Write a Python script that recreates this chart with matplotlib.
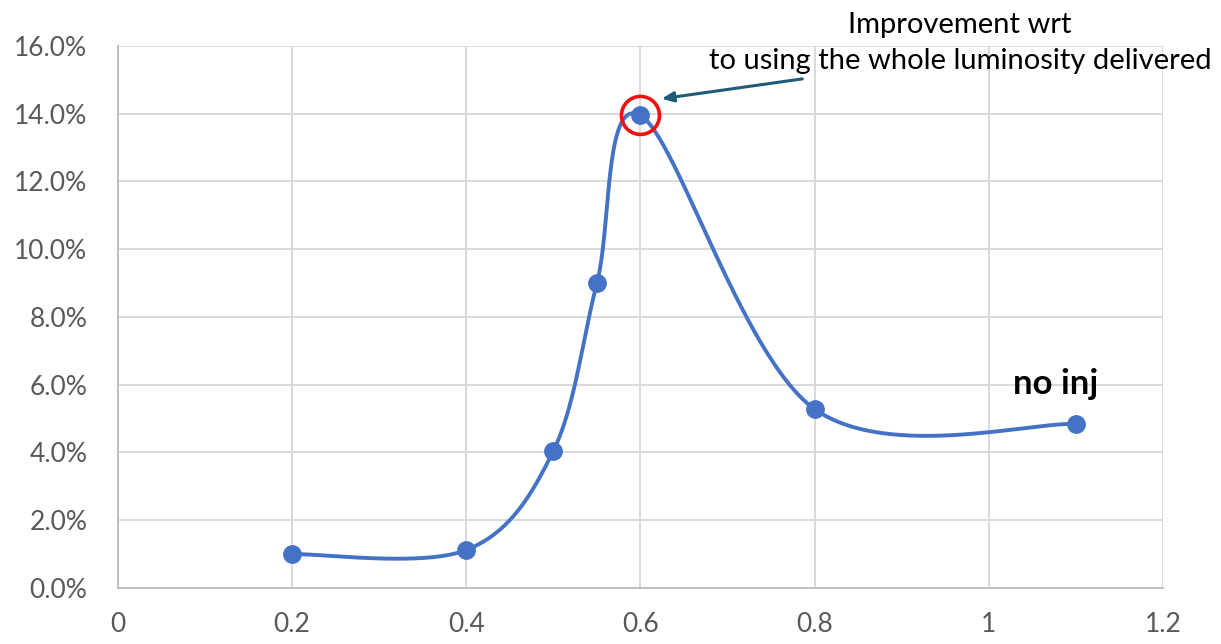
import matplotlib
matplotlib.use("Agg")
import matplotlib.pyplot as plt
import numpy as np
from matplotlib.patches import Ellipse
from matplotlib.ticker import FuncFormatter, MultipleLocator

plt.rcParams["font.family"] = ["Lato", "DejaVu Sans"]

# injection level vs. gain
x_vals = [0.2, 0.4, 0.5, 0.55, 0.6, 0.8, 1.1]
gain = [0.0100, 0.0112, 0.0405, 0.0900, 0.1395, 0.0528, 0.0484]

note_text = "Improvement wrt\nto using the whole luminosity delivered"
tag_text = "no inj"

LINE = "#4472C4"
GRID = "#D9D9D9"
TICK = "#595959"

XMAX, YMAX = 1.2, 0.16


def smooth(xs, ys, sx, sy, n=60):
    """Spreadsheet-style smoothed line: cubic Bezier through each point,
    tangents from neighbours (Catmull-Rom, 1/6 rule), done in screen scale."""
    P = np.column_stack([np.asarray(xs) * sx, np.asarray(ys) * sy])
    k = len(P)
    out = []
    t = np.linspace(0, 1, n)[:, None]
    for i in range(k - 1):
        p0, p3 = P[i], P[i + 1]
        prev = P[i - 1] if i > 0 else P[i]
        nxt = P[i + 2] if i + 2 < k else P[i + 1]
        c1 = p0 + (p3 - prev) / 6
        c2 = p3 - (nxt - p0) / 6
        seg = ((1 - t) ** 3) * p0 + 3 * ((1 - t) ** 2) * t * c1 \
            + 3 * (1 - t) * t ** 2 * c2 + t ** 3 * p3
        out.append(seg if i == 0 else seg[1:])
    pts = np.vstack(out)
    return pts[:, 0] / sx, pts[:, 1] / sy


fig = plt.figure(figsize=(12.21, 6.44), dpi=100)
ax = fig.add_axes([0.0966, 0.087, 0.8559, 0.8416])

ax_w = 0.8559 * 1221
ax_h = 0.8416 * 644
cx, cy = smooth(x_vals, gain, ax_w / XMAX, ax_h / YMAX)
ax.plot(cx, cy, color=LINE, lw=2.8, zorder=3, solid_capstyle="round")
ax.plot(x_vals, gain, "o", color=LINE, ms=12.5, zorder=4)

ax.set_xlim(0, XMAX)
ax.set_ylim(0, YMAX)
ax.xaxis.set_major_locator(MultipleLocator(0.2))
ax.yaxis.set_major_locator(MultipleLocator(0.02))
ax.xaxis.set_major_formatter(FuncFormatter(lambda v, p: "0" if abs(v) < 1e-9 else ("1" if abs(v - 1) < 1e-9 else f"{v:.1f}")))
ax.yaxis.set_major_formatter(FuncFormatter(lambda v, p: f"{v * 100:.1f}%"))
ax.grid(True, color=GRID, lw=1.4, zorder=0)
ax.set_axisbelow(True)
for s in ("top", "right"):
    ax.spines[s].set_visible(False)
for s in ("left", "bottom"):
    ax.spines[s].set_color("#BFBFBF")
    ax.spines[s].set_linewidth(1.4)
ax.tick_params(length=0, labelsize=19, colors=TICK)
ax.tick_params(axis="x", pad=17)
ax.tick_params(axis="y", pad=22)

# highlight the peak
peak = int(np.argmax(gain))
ax.add_patch(Ellipse((x_vals[peak], gain[peak]), width=38 * XMAX / ax_w,
                     height=38 * YMAX / ax_h, fill=False, ec="#EE1111",
                     lw=2.6, zorder=5, clip_on=False))
ax.annotate("", xy=(0.621, 0.1443), xytext=(0.789, 0.1504),
            arrowprops=dict(arrowstyle="-|>,head_length=0.7,head_width=0.3",
                            color="#1F5C7A", lw=2.2), zorder=6)
fig.text(960 / 1221, 1 - 43 / 644, note_text, ha="center", va="center",
         fontsize=21, linespacing=1.45)
ax.text(1.077, 0.0556, tag_text, ha="center", va="bottom", fontsize=25,
        fontweight="bold", zorder=6)

fig.savefig("out.png", dpi=100)
